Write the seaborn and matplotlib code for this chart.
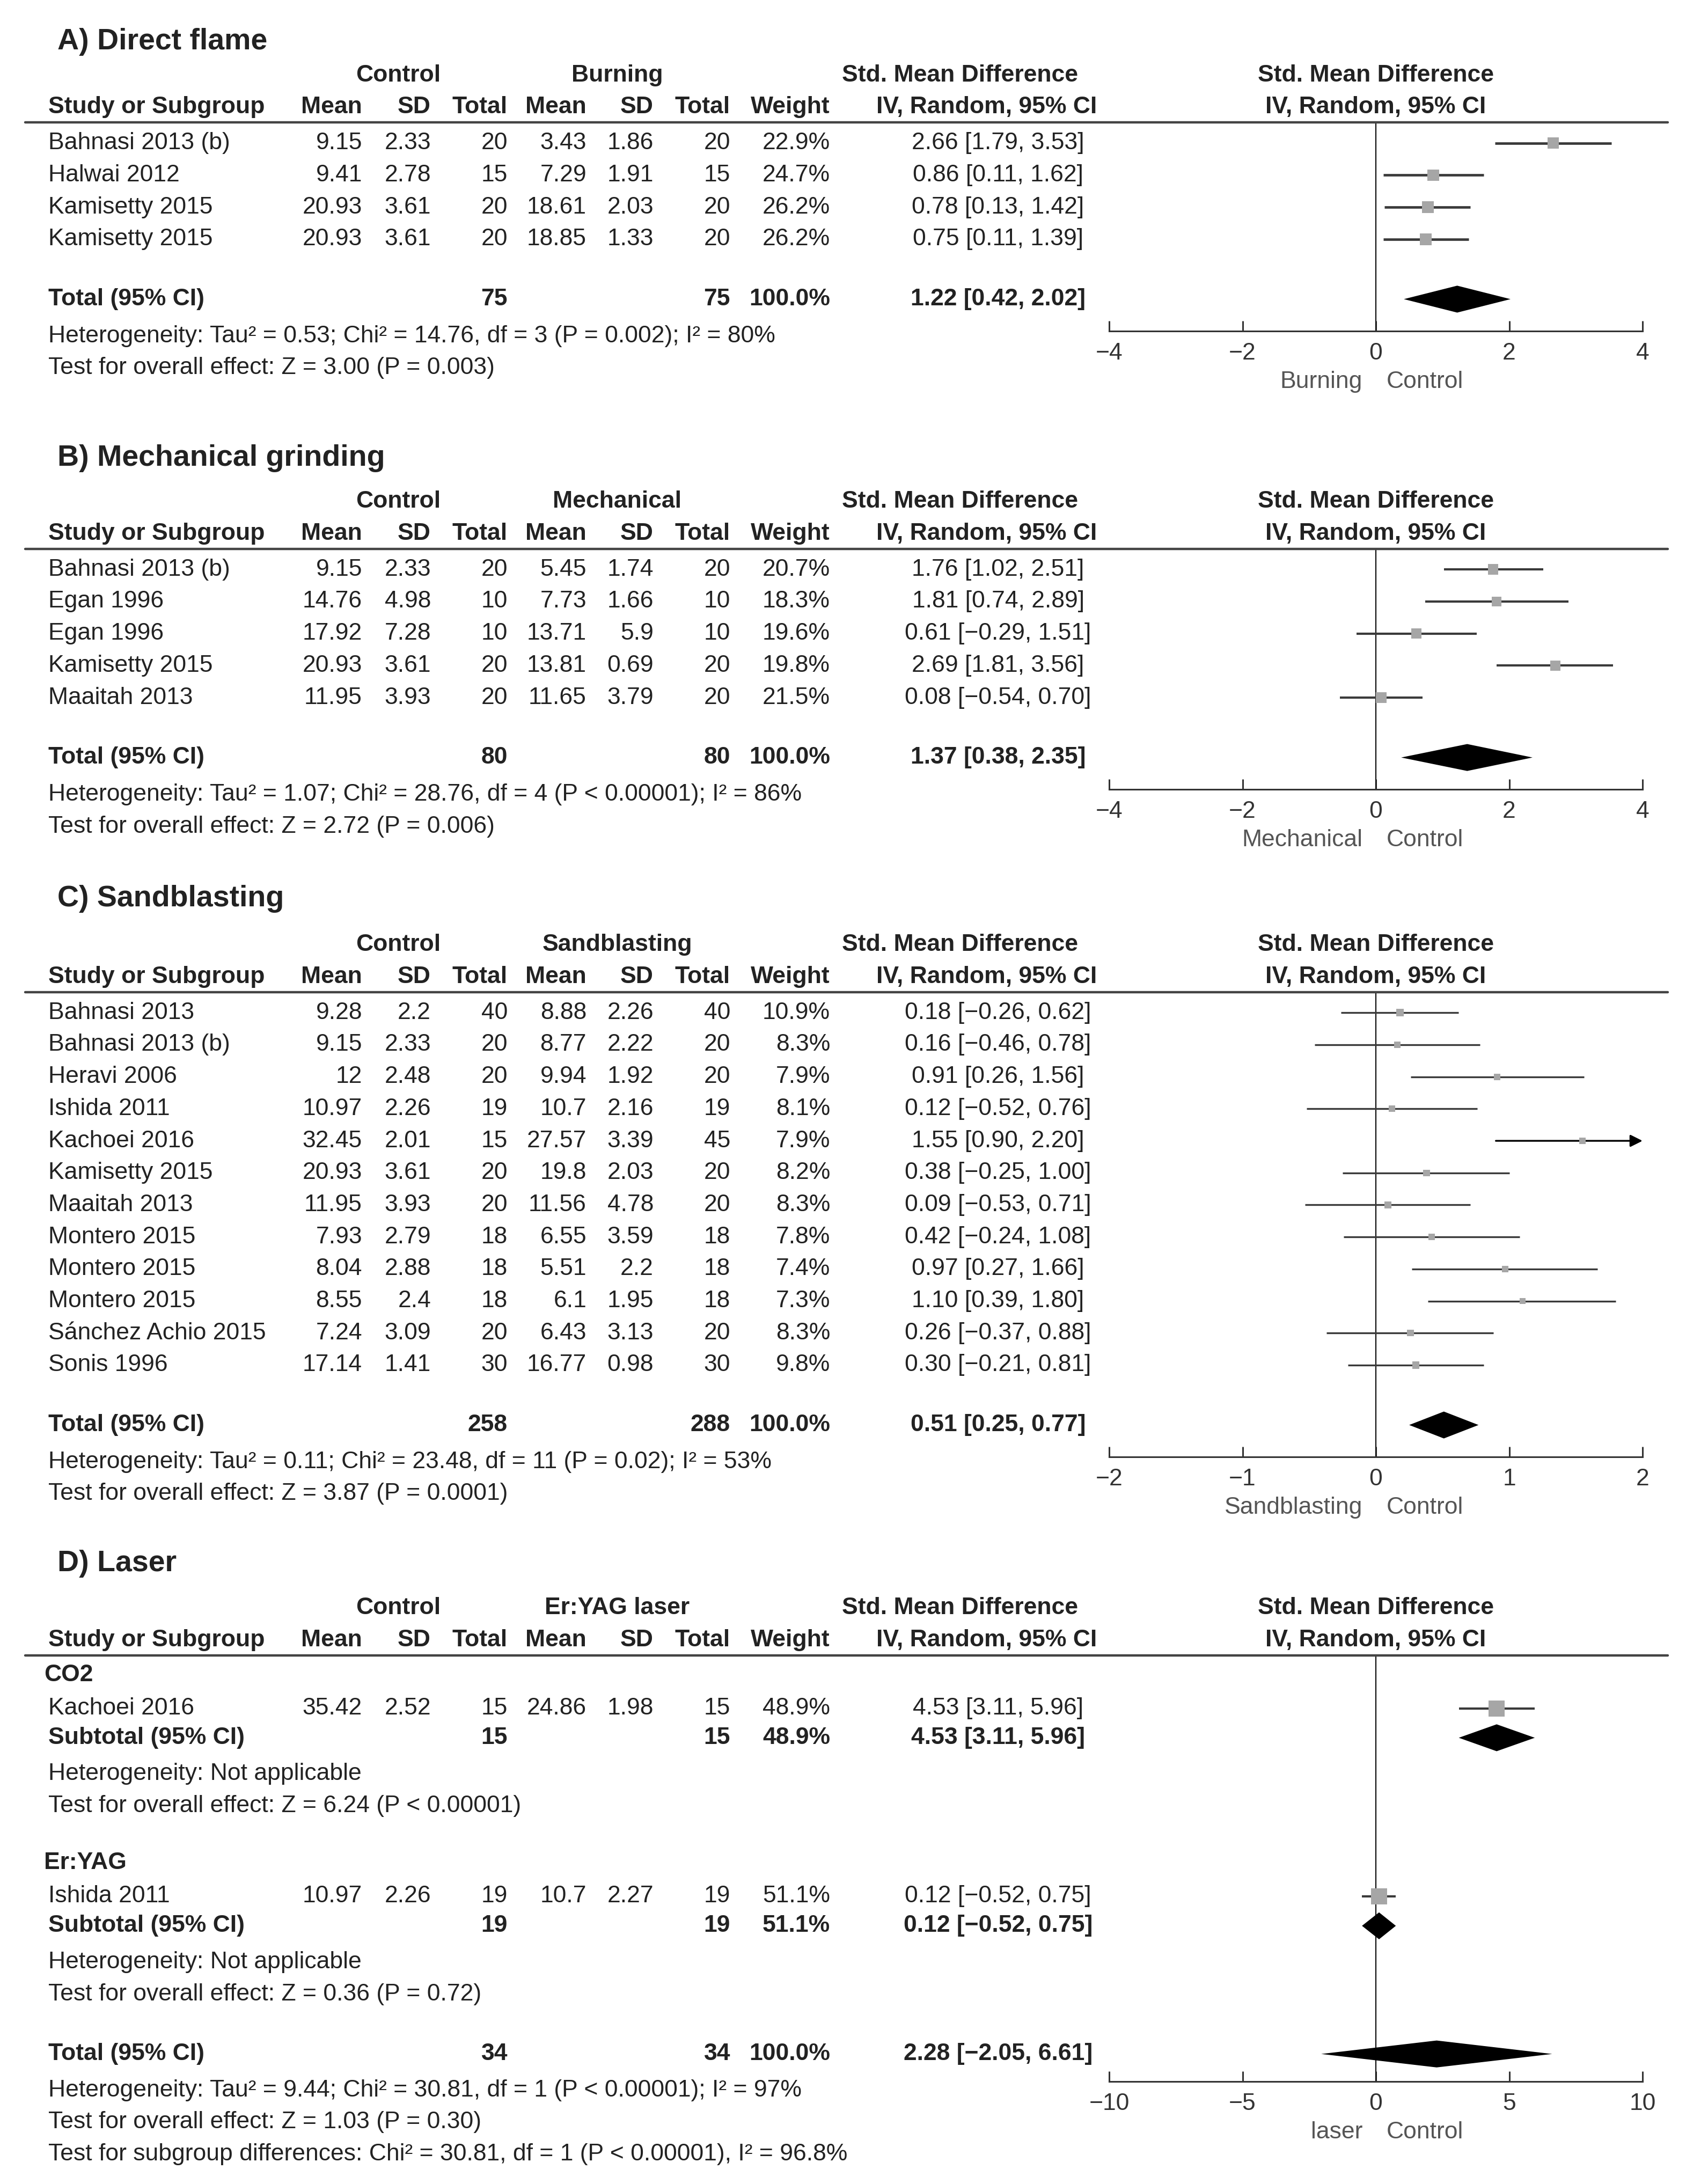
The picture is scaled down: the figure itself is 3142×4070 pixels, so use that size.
import numpy as np
import pandas as pd
import matplotlib
matplotlib.use("Agg")
import matplotlib.pyplot as plt
import seaborn as sns
from matplotlib import transforms
from matplotlib.lines import Line2D

# ------------------------------
# Data
# ------------------------------
# A) Direct flame
a_study = ["Bahnasi 2013 (b)", "Halwai 2012", "Kamisetty 2015", "Kamisetty 2015"]
a_ctrl_mean = [9.15, 9.41, 20.93, 20.93]
a_ctrl_sd = [2.33, 2.78, 3.61, 3.61]
a_ctrl_n = [20, 15, 20, 20]
a_exp_mean = [3.43, 7.29, 18.61, 18.85]
a_exp_sd = [1.86, 1.91, 2.03, 1.33]
a_exp_n = [20, 15, 20, 20]
a_weight = [22.9, 24.7, 26.2, 26.2]
a_smd = [2.66, 0.86, 0.78, 0.75]
a_lo = [1.79, 0.11, 0.13, 0.11]
a_hi = [3.53, 1.62, 1.42, 1.39]
a_total = (75, 75, 1.22, 0.42, 2.02)
a_het = "Heterogeneity: Tau² = 0.53; Chi² = 14.76, df = 3 (P = 0.002); I² = 80%"
a_test = "Test for overall effect: Z = 3.00 (P = 0.003)"

# B) Mechanical grinding
b_study = ["Bahnasi 2013 (b)", "Egan 1996", "Egan 1996", "Kamisetty 2015", "Maaitah 2013"]
b_ctrl_mean = [9.15, 14.76, 17.92, 20.93, 11.95]
b_ctrl_sd = [2.33, 4.98, 7.28, 3.61, 3.93]
b_ctrl_n = [20, 10, 10, 20, 20]
b_exp_mean = [5.45, 7.73, 13.71, 13.81, 11.65]
b_exp_sd = [1.74, 1.66, 5.9, 0.69, 3.79]
b_exp_n = [20, 10, 10, 20, 20]
b_weight = [20.7, 18.3, 19.6, 19.8, 21.5]
b_smd = [1.76, 1.81, 0.61, 2.69, 0.08]
b_lo = [1.02, 0.74, -0.29, 1.81, -0.54]
b_hi = [2.51, 2.89, 1.51, 3.56, 0.70]
b_total = (80, 80, 1.37, 0.38, 2.35)
b_het = "Heterogeneity: Tau² = 1.07; Chi² = 28.76, df = 4 (P < 0.00001); I² = 86%"
b_test = "Test for overall effect: Z = 2.72 (P = 0.006)"

# C) Sandblasting
c_study = ["Bahnasi 2013", "Bahnasi 2013 (b)", "Heravi 2006", "Ishida 2011", "Kachoei 2016",
           "Kamisetty 2015", "Maaitah 2013", "Montero 2015", "Montero 2015", "Montero 2015",
           "Sánchez Achio 2015", "Sonis 1996"]
c_ctrl_mean = [9.28, 9.15, 12, 10.97, 32.45, 20.93, 11.95, 7.93, 8.04, 8.55, 7.24, 17.14]
c_ctrl_sd = [2.2, 2.33, 2.48, 2.26, 2.01, 3.61, 3.93, 2.79, 2.88, 2.4, 3.09, 1.41]
c_ctrl_n = [40, 20, 20, 19, 15, 20, 20, 18, 18, 18, 20, 30]
c_exp_mean = [8.88, 8.77, 9.94, 10.7, 27.57, 19.8, 11.56, 6.55, 5.51, 6.1, 6.43, 16.77]
c_exp_sd = [2.26, 2.22, 1.92, 2.16, 3.39, 2.03, 4.78, 3.59, 2.2, 1.95, 3.13, 0.98]
c_exp_n = [40, 20, 20, 19, 45, 20, 20, 18, 18, 18, 20, 30]
c_weight = [10.9, 8.3, 7.9, 8.1, 7.9, 8.2, 8.3, 7.8, 7.4, 7.3, 8.3, 9.8]
c_smd = [0.18, 0.16, 0.91, 0.12, 1.55, 0.38, 0.09, 0.42, 0.97, 1.10, 0.26, 0.30]
c_lo = [-0.26, -0.46, 0.26, -0.52, 0.90, -0.25, -0.53, -0.24, 0.27, 0.39, -0.37, -0.21]
c_hi = [0.62, 0.78, 1.56, 0.76, 2.20, 1.00, 0.71, 1.08, 1.66, 1.80, 0.88, 0.81]
c_total = (258, 288, 0.51, 0.25, 0.77)
c_het = "Heterogeneity: Tau² = 0.11; Chi² = 23.48, df = 11 (P = 0.02); I² = 53%"
c_test = "Test for overall effect: Z = 3.87 (P = 0.0001)"

# D) Laser (two subgroups)
d_groups = ["CO2", "Er:YAG"]
d_study = ["Kachoei 2016", "Ishida 2011"]
d_ctrl_mean = [35.42, 10.97]
d_ctrl_sd = [2.52, 2.26]
d_ctrl_n = [15, 19]
d_exp_mean = [24.86, 10.7]
d_exp_sd = [1.98, 2.27]
d_exp_n = [15, 19]
d_weight = [48.9, 51.1]
d_smd = [4.53, 0.12]
d_lo = [3.11, -0.52]
d_hi = [5.96, 0.75]
d_sub_test = ["Test for overall effect: Z = 6.24 (P < 0.00001)",
              "Test for overall effect: Z = 0.36 (P = 0.72)"]
d_total = (34, 34, 2.28, -2.05, 6.61)
d_het = "Heterogeneity: Tau² = 9.44; Chi² = 30.81, df = 1 (P < 0.00001); I² = 97%"
d_test = "Test for overall effect: Z = 1.03 (P = 0.30)"
d_subdiff = "Test for subgroup differences: Chi² = 30.81, df = 1 (P < 0.00001), I² = 96.8%"

# ------------------------------
# Layout / style
# ------------------------------
W, H, DPI = 3142, 4070, 100
U = 59.7                 # pixels per table row
FS = 32
TXT = "#222222"
SQ = "#a6a6a6"
LINE = "#3a3a3a"
COL_X = [675, 803, 946, 1093, 1218, 1361, 1547]   # right edges of numeric columns
STUDY_X = 90
CI_X = 1860
AX_L, AX_R = 2067, 3061
DIAMOND_H = 0.42

sns.set_theme(style="white")
plt.rcParams["font.family"] = ["Liberation Sans", "DejaVu Sans"]

fig = plt.figure(figsize=(W / DPI, H / DPI), dpi=DPI)


def fmt(v):
    return f"{v:g}"


def ci_text(m, lo, hi):
    return f"{m:.2f} [{lo:.2f}, {hi:.2f}]".replace("-", "\u2212")


def txt(ax, x_px, y, s, ha="right", bold=False, size=FS, color=TXT):
    tr = transforms.blended_transform_factory(fig.transFigure, ax.transData)
    ax.text(x_px / W, y, s, transform=tr, ha=ha, va="center", fontsize=size,
            fontweight="bold" if bold else "normal", color=color, clip_on=False)


def make_axes(line_px, axis_rows, lim, ticks, lw):
    ax = fig.add_axes([AX_L / W, 1 - (line_px + axis_rows * U) / H,
                       (AX_R - AX_L) / W, axis_rows * U / H])
    ax.set_facecolor("none")
    sns.despine(ax=ax, left=True)
    ax.spines["bottom"].set_color("#333333")
    ax.spines["bottom"].set_linewidth(2.2)
    ax.tick_params(axis="x", bottom=True, direction="in", length=14, width=2.2,
                   color="#333333", labelsize=FS, labelcolor="#333333", pad=15)
    ax.set_yticks([])
    ax.set_xticks(ticks)
    ax.axvline(0, color="#111111", lw=1.6, zorder=1)
    ax.set_xlim(-lim, lim)
    ax.set_ylim(axis_rows, 0)
    # horizontal rule below the column headers
    yf = 1 - line_px / H
    fig.add_artist(Line2D([47 / W, 3108 / W], [yf, yf], color="#444444", lw=3.2,
                          transform=fig.transFigure))
    ax._ci_lw = lw
    return ax


def header(ax, title, title_row, exp_label):
    txt(ax, 107, title_row, title, ha="left", bold=True, size=40)
    txt(ax, 742, -1.48, "Control", ha="center", bold=True)
    txt(ax, 1150, -1.48, exp_label, ha="center", bold=True)
    txt(ax, 1789, -1.48, "Std. Mean Difference", ha="center", bold=True)
    txt(ax, STUDY_X, -0.48, "Study or Subgroup", ha="left", bold=True)
    for x, s in zip(COL_X, ["Mean", "SD", "Total", "Mean", "SD", "Total", "Weight"]):
        txt(ax, x, -0.48, s, bold=True)
    txt(ax, 2044, -0.48, "IV, Random, 95% CI", bold=True)
    tr = transforms.blended_transform_factory(ax.transAxes, ax.transData)
    for y, s in [(-1.48, "Std. Mean Difference"), (-0.48, "IV, Random, 95% CI")]:
        ax.text(0.5, y, s, transform=tr, ha="center", va="center", fontsize=FS,
                fontweight="bold", color=TXT, clip_on=False)


def studies(ax, ys, names, cm, cs, cn, em, es, en, w, smd, lo, hi):
    for i, y in enumerate(ys):
        txt(ax, STUDY_X, y, names[i], ha="left")
        vals = [fmt(cm[i]), fmt(cs[i]), str(cn[i]), fmt(em[i]), fmt(es[i]), str(en[i]),
                f"{w[i]:.1f}%"]
        for x, s in zip(COL_X, vals):
            txt(ax, x, y, s)
        txt(ax, CI_X, y, ci_text(smd[i], lo[i], hi[i]), ha="center")
    df = pd.DataFrame(dict(y=ys, smd=smd, lo=lo, hi=hi, w=w))
    xmax = ax.get_xlim()[1]
    inside = df[df.hi <= xmax]
    ax.hlines(inside.y, inside.lo, inside.hi, color=LINE, lw=ax._ci_lw, zorder=2)
    for _, r in df[df.hi > xmax].iterrows():
        ax.annotate("", xy=(xmax, r.y), xytext=(r.lo, r.y), zorder=2,
                    arrowprops=dict(arrowstyle="-|>", color="black", lw=ax._ci_lw,
                                    mutation_scale=34, shrinkA=0, shrinkB=0))
    sns.scatterplot(data=df, x="smd", y="y", marker="s", s=(df.w * 9.6).tolist(),
                    color=SQ, linewidth=0, legend=False, zorder=3, ax=ax)
    ax.set_xlabel("")
    ax.set_ylabel("")


def total_row(ax, y, label, n1, n2, weight, m, lo, hi):
    txt(ax, STUDY_X, y, label, ha="left", bold=True)
    txt(ax, COL_X[2], y, str(n1), bold=True)
    txt(ax, COL_X[5], y, str(n2), bold=True)
    txt(ax, COL_X[6], y, weight, bold=True)
    txt(ax, CI_X, y, ci_text(m, lo, hi), ha="center", bold=True)
    ax.fill([lo, m, hi, m], [y, y - DIAMOND_H, y, y + DIAMOND_H], color="black", lw=0,
            zorder=4)


def dir_labels(ax, line_px, axis_rows, left):
    base = transforms.blended_transform_factory(ax.transData, fig.transFigure)
    yf = 1 - (line_px + axis_rows * U + 94) / H
    ax.text(0, yf, left, transform=transforms.offset_copy(base, fig, x=-25, units="dots"),
            ha="right", va="center", fontsize=FS, color="#555555", clip_on=False)
    ax.text(0, yf, "Control", transform=transforms.offset_copy(base, fig, x=20, units="dots"),
            ha="left", va="center", fontsize=FS, color="#555555", clip_on=False)


def simple_panel(line_px, title, title_row, exp_label, lim, ticks, lw, data, total, het, test):
    n = len(data[0])
    ys = 0.64 + np.arange(n)
    y_tot = ys[-1] + 1.87
    axis_rows = y_tot + 1.0
    ax = make_axes(line_px, axis_rows, lim, ticks, lw)
    header(ax, title, title_row, exp_label)
    studies(ax, ys, *data)
    total_row(ax, y_tot, "Total (95% CI)", total[0], total[1], "100.0%", *total[2:])
    txt(ax, STUDY_X, y_tot + 1.15, het, ha="left")
    txt(ax, STUDY_X, y_tot + 2.15, test, ha="left")
    dir_labels(ax, line_px, axis_rows, exp_label)
    return ax


simple_panel(228.5, "A) Direct flame", -2.52, "Burning", 4, [-4, -2, 0, 2, 4], 3.4,
             (a_study, a_ctrl_mean, a_ctrl_sd, a_ctrl_n, a_exp_mean, a_exp_sd, a_exp_n,
              a_weight, a_smd, a_lo, a_hi), a_total, a_het, a_test)
simple_panel(1023, "B) Mechanical grinding", -2.83, "Mechanical", 4, [-4, -2, 0, 2, 4], 3.0,
             (b_study, b_ctrl_mean, b_ctrl_sd, b_ctrl_n, b_exp_mean, b_exp_sd, b_exp_n,
              b_weight, b_smd, b_lo, b_hi), b_total, b_het, b_test)
simple_panel(1849, "C) Sandblasting", -2.91, "Sandblasting", 2, [-2, -1, 0, 1, 2], 2.4,
             (c_study, c_ctrl_mean, c_ctrl_sd, c_ctrl_n, c_exp_mean, c_exp_sd, c_exp_n,
              c_weight, c_smd, c_lo, c_hi), c_total, c_het, c_test)

# D) Laser with subgroups
line_d = 3085
block = 0.61 + 5.87 * np.arange(len(d_groups))
y_tot = block[-1] + 4.09 + 1.87
axis_rows = y_tot + 0.86
ax = make_axes(line_d, axis_rows, 10, [-10, -5, 0, 5, 10], 3.0)
header(ax, "D) Laser", -2.87, "Er:YAG laser")
for g, b in enumerate(block):
    txt(ax, 82, b, d_groups[g], ha="left", bold=True)
    studies(ax, [b + 1.04], [d_study[g]], [d_ctrl_mean[g]], [d_ctrl_sd[g]], [d_ctrl_n[g]],
            [d_exp_mean[g]], [d_exp_sd[g]], [d_exp_n[g]], [d_weight[g]], [d_smd[g]],
            [d_lo[g]], [d_hi[g]])
    total_row(ax, b + 1.96, "Subtotal (95% CI)", d_ctrl_n[g], d_exp_n[g],
              f"{d_weight[g]:.1f}%", d_smd[g], d_lo[g], d_hi[g])
    txt(ax, STUDY_X, b + 3.09, "Heterogeneity: Not applicable", ha="left")
    txt(ax, STUDY_X, b + 4.09, d_sub_test[g], ha="left")
total_row(ax, y_tot, "Total (95% CI)", d_total[0], d_total[1], "100.0%", *d_total[2:])
txt(ax, STUDY_X, y_tot + 1.13, d_het, ha="left")
txt(ax, STUDY_X, y_tot + 2.13, d_test, ha="left")
txt(ax, STUDY_X, y_tot + 3.13, d_subdiff, ha="left")
dir_labels(ax, line_d, axis_rows, "laser")

fig.savefig("out.png", dpi=DPI, facecolor="white")
